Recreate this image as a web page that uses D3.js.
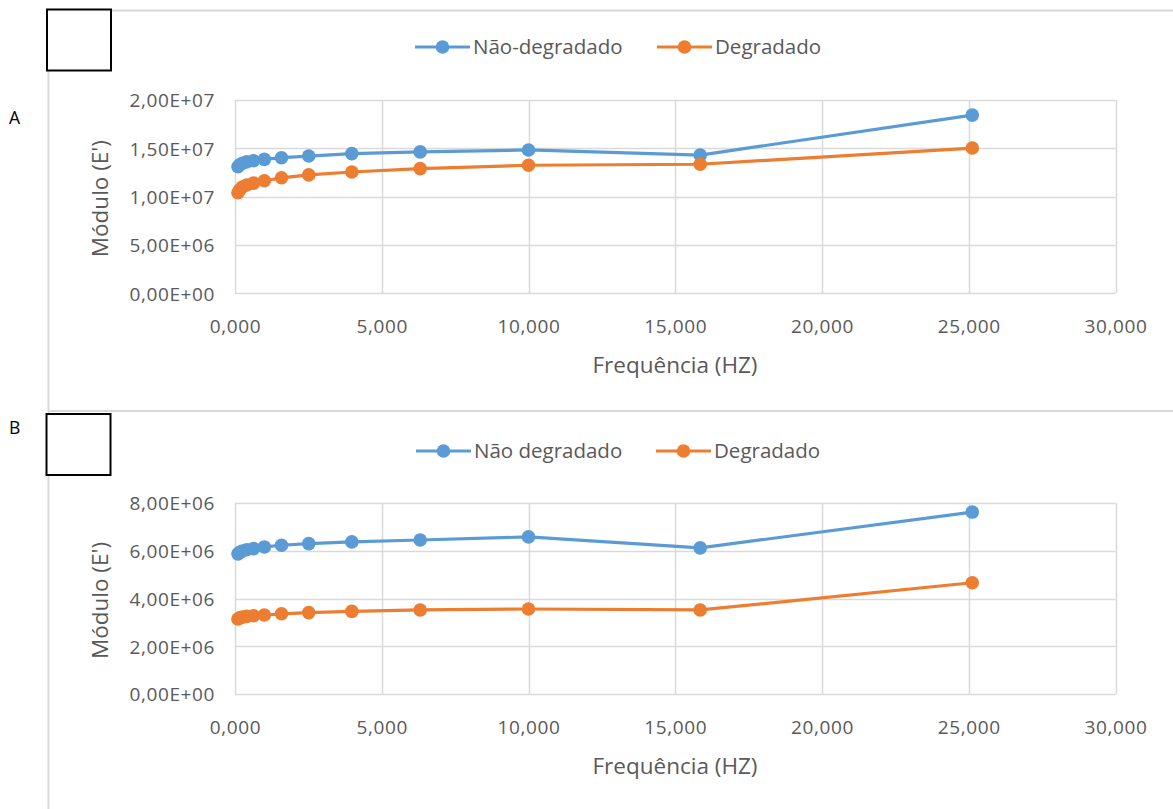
<!DOCTYPE html>
<html><head><meta charset="utf-8">
<script src="https://cdn.jsdelivr.net/npm/d3@7"></script>
<style>
html,body{margin:0;padding:0;background:#fff;}
svg{display:block;font-family:"Open Sans",sans-serif;}
</style></head>
<body>
<svg id="c" width="1173" height="809"></svg>
<script>
// Frequencies (Hz)
const freq = [0.1, 0.158, 0.251, 0.398, 0.631, 1, 1.585, 2.512, 3.981, 6.31, 10, 15.85, 25.12];
// Chart A values
const aNaoDeg = [1.31e7, 1.33e7, 1.345e7, 1.36e7, 1.372e7, 1.386e7, 1.403e7, 1.42e7, 1.445e7, 1.463e7, 1.483e7, 1.43e7, 1.844e7];
const aDeg    = [1.04e7, 1.07e7, 1.10e7, 1.12e7, 1.14e7, 1.165e7, 1.195e7, 1.225e7, 1.255e7, 1.29e7, 1.325e7, 1.335e7, 1.503e7];
// Chart B values
const bNaoDeg = [5.87e6, 5.93e6, 5.99e6, 6.04e6, 6.09e6, 6.16e6, 6.23e6, 6.30e6, 6.37e6, 6.45e6, 6.58e6, 6.12e6, 7.62e6];
const bDeg    = [3.14e6, 3.19e6, 3.22e6, 3.25e6, 3.28e6, 3.31e6, 3.36e6, 3.41e6, 3.46e6, 3.52e6, 3.56e6, 3.52e6, 4.66e6];
// Ticks
const xTicks = [0, 5, 10, 15, 20, 25, 30];
const aYTicks = [0, 5e6, 1e7, 1.5e7, 2e7];
const bYTicks = [0, 2e6, 4e6, 6e6, 8e6];
const legendA = ["Não-degradado", "Degradado"];
const legendB = ["Não degradado", "Degradado"];
const colors = ["#5B9BD5", "#ED7D31"];

const svg = d3.select("#c");
const grid = "#d9d9d9", txt = "#595959";

function fmtX(v){ return v.toFixed(3).replace(".", ","); }
function fmtY(v){ return v.toExponential(2).toUpperCase().replace(".", ",").replace(/E\+(\d)$/, "E+0$1").replace(/E-(\d)$/, "E-0$1"); }

// panel borders
svg.append("line").attr("x1",49).attr("x2",1173).attr("y1",10.5).attr("y2",10.5).attr("stroke",grid).attr("stroke-width",2);
svg.append("line").attr("x1",48.5).attr("x2",48.5).attr("y1",10).attr("y2",809).attr("stroke",grid).attr("stroke-width",2);
svg.append("line").attr("x1",49).attr("x2",1173).attr("y1",411).attr("y2",411).attr("stroke",grid).attr("stroke-width",2);

function chart(o){
  const x = d3.scaleLinear().domain([0,30]).range([235,1115.5]);
  const y = d3.scaleLinear().domain([0,o.yMax]).range([o.bottom,o.top]);
  const g = svg.append("g");
  // gridlines
  g.selectAll(".hg").data(o.yTicks).join("line")
    .attr("x1",235).attr("x2",1115.5).attr("y1",d=>Math.round(y(d))+0.5).attr("y2",d=>Math.round(y(d))+0.5)
    .attr("stroke",grid).attr("stroke-width",1.5);
  g.selectAll(".vg").data(xTicks).join("line")
    .attr("y1",o.top).attr("y2",o.bottom).attr("x1",d=>Math.round(x(d))+0.5).attr("x2",d=>Math.round(x(d))+0.5)
    .attr("stroke",grid).attr("stroke-width",1.5);
  // axes labels
  const ya = d3.axisLeft(y).tickValues(o.yTicks).tickFormat(fmtY).tickSize(0).tickPadding(20);
  const yg = g.append("g").attr("transform","translate(235,0)").call(ya);
  yg.select(".domain").remove();
  yg.selectAll("text").attr("font-size",19).attr("letter-spacing",0.6).attr("fill",txt).attr("font-family","'Open Sans',sans-serif").attr("dy","0.36em");
  const xa = d3.axisBottom(x).tickValues(xTicks).tickFormat(fmtX).tickSize(0).tickPadding(0);
  const xg = g.append("g").attr("transform",`translate(0,${o.bottom})`).call(xa);
  xg.select(".domain").remove();
  xg.selectAll("text").attr("font-size",19).attr("letter-spacing",0.6).attr("fill",txt).attr("font-family","'Open Sans',sans-serif").attr("y",33).attr("dy","0.36em");
  // titles
  g.append("text").attr("x",675).attr("y",o.bottom+72).attr("dy","0.36em").attr("text-anchor","middle").attr("font-size",22.5).attr("fill",txt).text("Frequência (HZ)");
  g.append("text").attr("transform",`translate(100,${(o.top+o.bottom)/2+2}) rotate(-90)`).attr("dy","0.36em").attr("text-anchor","middle").attr("font-size",22.5).attr("fill",txt).text("Módulo (E')");
  // series
  o.series.forEach((s,i)=>{
    const pts = freq.map((f,j)=>[f,s[j]]);
    g.append("path").datum(pts).attr("fill","none").attr("stroke",colors[i]).attr("stroke-width",3.2)
      .attr("stroke-linejoin","round").attr("stroke-linecap","round")
      .attr("d", d3.line().x(d=>x(d[0])).y(d=>y(d[1])));
    g.selectAll(null).data(pts).join("circle").attr("cx",d=>x(d[0])).attr("cy",d=>y(d[1])).attr("r",6.8).attr("fill",colors[i]);
  });
  // legend
  o.legend.forEach((name,i)=>{
    const lx = o.legX[i], ly = o.legY;
    g.append("line").attr("x1",lx).attr("x2",lx+55).attr("y1",ly).attr("y2",ly).attr("stroke",colors[i]).attr("stroke-width",3.2);
    g.append("circle").attr("cx",lx+27.5).attr("cy",ly).attr("r",6.8).attr("fill",colors[i]);
    g.append("text").attr("x",lx+58).attr("y",ly).attr("dy","0.36em").attr("font-size",20.5).attr("fill",txt).text(name);
  });
  // label box and letter
  g.append("rect").attr("x",o.boxX).attr("y",o.boxY).attr("width",64).attr("height",61).attr("fill","#fff").attr("stroke","#000").attr("stroke-width",2);
  g.append("text").attr("x",9).attr("y",o.letterY).attr("dy","0.36em").attr("font-size",17.5).attr("fill","#000").text(o.letter);
}

chart({top:100, bottom:293.3, yMax:2e7, yTicks:aYTicks, series:[aNaoDeg,aDeg], legend:legendA, legX:[415,657], legY:47, boxX:47, boxY:9.5, letter:"A", letterY:118});
chart({top:503, bottom:694, yMax:8e6, yTicks:bYTicks, series:[bNaoDeg,bDeg], legend:legendB, legX:[416,656], legY:451, boxX:46.5, boxY:414, letter:"B", letterY:428});
</script>
</body></html>
